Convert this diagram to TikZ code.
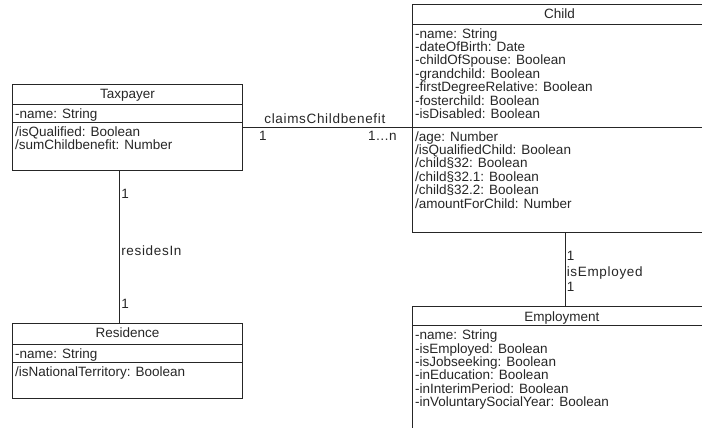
\documentclass[tikz,border=0pt]{standalone}
\usepackage{fontspec}
\setmainfont{Liberation Sans}
\begin{document}
\begin{tikzpicture}[x=1pt,y=-1pt,
  umlclass/.style={draw=black!85,line width=0.8pt,inner sep=0pt,anchor=north west},
  classname/.style={anchor=base,inner sep=0pt,text=black!85},
  members/.style={anchor=north west,inner sep=0pt,align=left,text=black!85},
  assoc/.style={draw=black!85,line width=0.8pt},
  mult/.style={inner sep=0pt,text=black!85},
  every node/.append style={font=\fontsize{13.5}{13.4}\selectfont}]
\useasboundingbox (0,0) rectangle (702,428);

% classes
\node[umlclass,minimum width=230,minimum height=86] (taxpayer) at (12,84) {};
\node[classname] (taxpayername) at ([yshift=-14.8]taxpayer.north) {Taxpayer};
\draw[assoc] ([yshift=-20]taxpayer.north west) -- ([yshift=-20]taxpayer.north east);
\draw[assoc] ([yshift=-38]taxpayer.north west) -- ([yshift=-38]taxpayer.north east);
\node[members] (taxpayerattr) at ([xshift=3,yshift=-24.2]taxpayer.north west) {-name: String};
\node[members] (taxpayerops) at ([xshift=3,yshift=-42.2]taxpayer.north west) {/isQualified: Boolean\\/sumChildbenefit: Number};

\node[umlclass,minimum width=294,minimum height=228] (child) at (412,4) {};
\node[classname] (childname) at ([yshift=-14.8]child.north) {Child};
\draw[assoc] ([yshift=-20]child.north west) -- ([yshift=-20]child.north east);
\draw[assoc] ([yshift=-123]child.north west) -- ([yshift=-123]child.north east);
\node[members] (childattr) at ([xshift=3,yshift=-24.2]child.north west) {-name: String\\-dateOfBirth: Date\\-childOfSpouse: Boolean\\-grandchild: Boolean\\-firstDegreeRelative: Boolean\\-fosterchild: Boolean\\-isDisabled: Boolean};
\node[members] (childops) at ([xshift=3,yshift=-127.2]child.north west) {/age: Number\\/isQualifiedChild: Boolean\\/child§32: Boolean\\/child§32.1: Boolean\\/child§32.2: Boolean\\/amountForChild: Number};

\node[umlclass,minimum width=299,minimum height=140] (employment) at (412,306) {};
\node[classname] (employmentname) at ([yshift=-15.3]employment.north) {Employment};
\draw[assoc] ([yshift=-19]employment.north west) -- ([yshift=-19]employment.north east);
\node[members] (employmentattr) at ([xshift=3,yshift=-23.7]employment.north west) {-name: String\\-isEmployed: Boolean\\-isJobseeking: Boolean\\-inEducation: Boolean\\-inInterimPeriod: Boolean\\-inVoluntarySocialYear: Boolean};

\node[umlclass,minimum width=230,minimum height=75] (residence) at (12,323) {};
\node[classname] (residencename) at ([yshift=-14.8]residence.north) {Residence};
\draw[assoc] ([yshift=-21]residence.north west) -- ([yshift=-21]residence.north east);
\draw[assoc] ([yshift=-39.5]residence.north west) -- ([yshift=-39.5]residence.north east);
\node[members] (residenceattr) at ([xshift=3,yshift=-25.2]residence.north west) {-name: String};
\node[members] (residenceops) at ([xshift=3,yshift=-43.2]residence.north west) {/isNationalTerritory: Boolean};

% associations
\draw[assoc] (taxpayer.east) -- (taxpayer.east -| child.west)
  node[mult,pos=0.485,anchor=base,yshift=3.5] (claims) {\addfontfeatures{LetterSpace=5}claimsChildbenefit}
  node[mult,pos=0,anchor=north west,xshift=16,yshift=-3.5] (claimsfrom) {1}
  node[mult,pos=1,anchor=north east,xshift=-15,yshift=-3.5] (claimsto) {1…n};
\draw[assoc] ([xshift=-8.5]taxpayer.south) -- ([xshift=-8.5]taxpayer.south |- residence.north)
  node[mult,pos=0.18,anchor=base west,xshift=2] (residesfrom) {1}
  node[mult,pos=0.556,anchor=base west,xshift=2] (resides) {\addfontfeatures{LetterSpace=5}residesIn}
  node[mult,pos=0.905,anchor=base west,xshift=2] (residesto) {1};
\draw[assoc] ([xshift=5.5]child.south) -- ([xshift=5.5]child.south |- employment.north)
  node[mult,pos=0.372,anchor=base west,xshift=1.5] (employedfrom) {1}
  node[mult,pos=0.601,anchor=base west,xshift=1.5] (employed) {\addfontfeatures{LetterSpace=5}isEmployed}
  node[mult,pos=0.804,anchor=base west,xshift=1.5] (employedto) {1};
\end{tikzpicture}
\end{document}
